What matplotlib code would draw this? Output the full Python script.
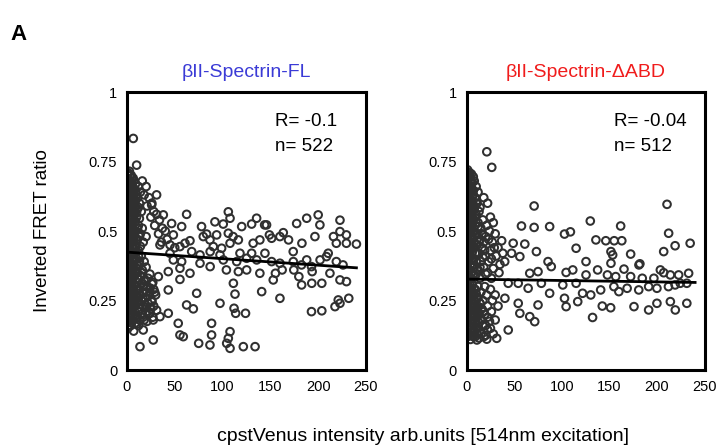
import numpy as np
import matplotlib
matplotlib.use("Agg")
import matplotlib.pyplot as plt

plt.rcParams['font.family'] = ['Liberation Sans', 'DejaVu Sans']

# panel titles and stats
titles = ["βII-Spectrin-FL", "βII-Spectrin-ΔABD"]
title_colors = ["#3b3bd6", "#f01c1c"]
r_values = ["R= -0.1", "R= -0.04"]
n_values = ["n= 522", "n= 512"]

# regression lines: (intercept, slope, x start, x end)
fit_left = (0.424, -0.000235, 3, 240)
fit_right = (0.327, -0.000050, 3, 240)

# ---- left panel (FL): dense cluster near x=0
left_dense = [
    (1, 0.71), (3, 0.70), (5, 0.69), (2, 0.68), (7, 0.68), (4, 0.67), (9, 0.67), (1, 0.66),
    (6, 0.66), (3, 0.65), (8, 0.65), (12, 0.66), (2, 0.64), (5, 0.64), (10, 0.63), (14, 0.64),
    (1, 0.63), (4, 0.62), (7, 0.62), (2, 0.61), (9, 0.61), (5, 0.60), (0.5, 0.59), (3, 0.59),
    (8, 0.59), (6, 0.58), (11, 0.58), (1, 0.57), (4, 0.57), (13, 0.60), (7, 0.56), (2, 0.55),
    (10, 0.55), (15, 0.57), (5, 0.54), (1, 0.53), (8, 0.53), (3, 0.52), (12, 0.52), (6, 0.51),
    (0.5, 0.50), (9, 0.50), (4, 0.49), (14, 0.49), (2, 0.48), (7, 0.47), (11, 0.47), (1, 0.46),
    (5, 0.46), (17, 0.46), (3, 0.45), (9, 0.45), (20, 0.48), (16, 0.51), (6, 0.44), (1, 0.43),
    (12, 0.43), (4, 0.42), (8, 0.42), (2, 0.41), (15, 0.41), (10, 0.40), (5, 0.40), (0.5, 0.39),
    (7, 0.39), (18, 0.39), (3, 0.38), (13, 0.38), (9, 0.37), (1, 0.36), (6, 0.36), (20, 0.37),
    (4, 0.35), (11, 0.35), (16, 0.36), (2, 0.34), (8, 0.34), (14, 0.34), (22, 0.33), (5, 0.33),
    (11, 0.33), (18, 0.32), (1, 0.32), (26, 0.31), (7, 0.31), (15, 0.31), (3, 0.30), (10, 0.30),
    (21, 0.30), (28, 0.29), (6, 0.29), (13, 0.29), (1, 0.28), (17, 0.28), (24, 0.28), (9, 0.27),
    (4, 0.27), (30, 0.27), (12, 0.26), (19, 0.26), (2, 0.26), (26, 0.25), (7, 0.25), (15, 0.25),
    (0.5, 0.24), (10, 0.24), (22, 0.24), (5, 0.23), (17, 0.23), (28, 0.23), (2, 0.22), (13, 0.22),
    (8, 0.21), (20, 0.21), (25, 0.22), (1, 0.20), (4, 0.20), (15, 0.20), (11, 0.19), (6, 0.19),
    (18, 0.18), (2, 0.18), (9, 0.17), (4, 0.16), (1, 0.15), (12, 0.16), (7, 0.14),
    (16, 0.68), (20, 0.66), (18, 0.63), (23, 0.62), (26, 0.60), (21, 0.59), (28, 0.57), (31, 0.56),
    (25, 0.55), (34, 0.54), (29, 0.52), (37, 0.51), (33, 0.49), (40, 0.50), (42, 0.47), (36, 0.46),
    (45, 0.45), (50, 0.44),
]

# the solid black column hugging the y axis
left_core = [
    (2.5, 0.715), (0.5, 0.705), (4.5, 0.70), (6.5, 0.69), (1.5, 0.685), (3.5, 0.675), (5.5, 0.67),
    (0.5, 0.66), (2.5, 0.655), (4.5, 0.645), (6.5, 0.64), (1.5, 0.635), (3.5, 0.625), (5.5, 0.62),
    (0.5, 0.615), (2.5, 0.605), (4.5, 0.60), (6.5, 0.595), (1.5, 0.59), (3.5, 0.58), (5.5, 0.575),
    (0.5, 0.57), (2.5, 0.565), (4.5, 0.555), (6.5, 0.55), (1.5, 0.545), (3.5, 0.54), (5.5, 0.53),
    (0.5, 0.525), (2.5, 0.52), (4.5, 0.515), (6.5, 0.505), (1.5, 0.50), (3.5, 0.495), (5.5, 0.49),
    (0.5, 0.48), (2.5, 0.475), (4.5, 0.47), (6.5, 0.465), (1.5, 0.455), (3.5, 0.45), (5.5, 0.445),
    (0.5, 0.44), (2.5, 0.43), (4.5, 0.425), (6.5, 0.42), (1.5, 0.415), (3.5, 0.405), (5.5, 0.40),
    (0.5, 0.395), (2.5, 0.39), (4.5, 0.38), (6.5, 0.375), (1.5, 0.37), (3.5, 0.365), (5.5, 0.355),
    (0.5, 0.35), (2.5, 0.345), (4.5, 0.34), (6.5, 0.33), (1.5, 0.325), (3.5, 0.32), (5.5, 0.315),
    (0.5, 0.305), (2.5, 0.30), (4.5, 0.295), (6.5, 0.29), (1.5, 0.28), (3.5, 0.275), (5.5, 0.27),
    (0.5, 0.265), (2.5, 0.255), (4.5, 0.25), (6.5, 0.245), (1.5, 0.24), (3.5, 0.23), (5.5, 0.225),
    (0.5, 0.22), (2.5, 0.215), (4.5, 0.205), (6.5, 0.20), (1.5, 0.195), (3.5, 0.19), (0.5, 0.18),
    (2.5, 0.175), (4.5, 0.17),
    (9, 0.355), (16, 0.35), (24, 0.345), (12, 0.325), (20, 0.32), (27, 0.315), (8, 0.305),
    (17, 0.30), (24, 0.295), (11, 0.285), (20, 0.28), (29, 0.28), (14, 0.27), (8, 0.26),
    (22, 0.265), (17, 0.255), (11, 0.245), (26, 0.245), (14, 0.235), (8, 0.23), (20, 0.225),
    (31, 0.215), (12, 0.21), (23, 0.205), (9, 0.195), (17, 0.19), (27, 0.19), (13, 0.18),
    (21, 0.175), (10, 0.165),
    (9, 0.64), (11, 0.62), (8, 0.60), (12, 0.585), (10, 0.565), (13, 0.545), (9, 0.535),
    (11, 0.51), (8, 0.49), (13, 0.48), (10, 0.465), (9, 0.44), (14, 0.445), (10, 0.425),
    (12, 0.41), (8, 0.395), (13, 0.39), (11, 0.375),
]

# ---- left panel: scattered points
left_sparse = [
    (6.6, 0.833), (10.1, 0.737), (31, 0.63), (25.8, 0.594), (62.4, 0.56), (106, 0.569),
    (107.8, 0.546), (135.6, 0.546), (188, 0.546), (200, 0.558), (201.8, 0.522), (222.8, 0.539),
    (177.5, 0.527), (146, 0.522), (78, 0.516), (92, 0.533), (100.7, 0.525), (120, 0.516),
    (130.4, 0.525), (144, 0.522), (149, 0.486), (160, 0.48), (163.5, 0.494), (196.6, 0.48),
    (222.8, 0.498), (216, 0.48), (229.5, 0.486), (240, 0.453), (229.5, 0.456), (219, 0.456),
    (183, 0.456), (169, 0.468), (151.3, 0.474), (139, 0.468), (132, 0.456), (116.5, 0.468),
    (111, 0.48), (106, 0.492), (107.8, 0.456), (93.8, 0.486), (83.3, 0.489), (86.8, 0.468),
    (79.8, 0.48), (65.9, 0.465), (60.7, 0.456), (55.4, 0.444), (34.5, 0.45), (45, 0.42),
    (57.2, 0.516), (46.7, 0.527), (38, 0.558), (48.5, 0.486), (118.2, 0.42), (130.4, 0.42),
    (144.3, 0.42), (173.9, 0.426), (208.7, 0.408), (210.5, 0.42), (97.3, 0.414), (87, 0.426),
    (76.4, 0.414), (67.7, 0.426), (90.3, 0.444), (99, 0.438), (100.8, 0.396), (114.8, 0.39),
    (125.2, 0.402), (135.7, 0.396), (151.3, 0.39), (160, 0.384), (174, 0.39), (182.6, 0.378),
    (193, 0.372), (188, 0.396), (202, 0.396), (219, 0.39), (226, 0.378), (57.2, 0.39),
    (48.5, 0.396), (76.4, 0.384), (87, 0.372), (104, 0.36), (116.5, 0.354), (125.2, 0.36),
    (139, 0.348), (155.3, 0.348), (162.3, 0.36), (174.5, 0.36), (179.8, 0.336), (193.7, 0.354),
    (212.3, 0.348), (43.2, 0.354), (55.4, 0.366), (65.9, 0.348), (32.8, 0.336), (55.4, 0.326),
    (111.3, 0.312), (153, 0.324), (182.7, 0.306), (193.3, 0.312), (203.8, 0.312), (222.8, 0.324),
    (229.6, 0.318), (43.2, 0.288), (72.9, 0.276), (113, 0.273), (140.9, 0.282), (160, 0.258),
    (97.3, 0.24), (62.4, 0.234), (69.4, 0.22), (221, 0.252), (232, 0.258), (217.6, 0.228),
    (222.8, 0.24), (193, 0.21), (203.8, 0.213), (43.2, 0.204), (53.6, 0.168), (112, 0.222),
    (113.7, 0.204), (124, 0.204), (88.5, 0.168), (55.4, 0.126), (58.9, 0.12), (88.5, 0.126),
    (86.8, 0.09), (75, 0.096), (27.5, 0.108), (13.6, 0.084), (107.8, 0.138), (106, 0.114),
    (104.3, 0.096), (107.8, 0.078), (121.7, 0.084), (134, 0.084), (34.5, 0.192), (27.5, 0.18),
    (17, 0.144), (24, 0.204),
]

# ---- right panel (dABD): dense cluster near x=0
right_dense = [
    (1, 0.71), (3, 0.70), (0.5, 0.69), (5, 0.68), (2, 0.67), (8, 0.68), (4, 0.66), (1, 0.65),
    (10, 0.66), (6, 0.65), (3, 0.64), (12, 0.64), (7, 0.63), (2, 0.62), (9, 0.62), (5, 0.61),
    (0.5, 0.60), (11, 0.60), (4, 0.59), (8, 0.58), (2, 0.57), (6, 0.57), (13, 0.57), (1, 0.56),
    (10, 0.56), (4, 0.55), (7, 0.54), (2, 0.53), (12, 0.53), (5, 0.52), (9, 0.52), (1, 0.51),
    (15, 0.51), (3, 0.50), (7, 0.50), (11, 0.49), (0.5, 0.48), (5, 0.48), (14, 0.47), (2, 0.47),
    (8, 0.46), (18, 0.46), (4, 0.45), (11, 0.45), (1, 0.44), (6, 0.44), (16, 0.44), (3, 0.43),
    (9, 0.42), (13, 0.42), (0.5, 0.41), (6, 0.40), (20, 0.41), (2, 0.39), (10, 0.39), (15, 0.39),
    (4, 0.38), (8, 0.37), (1, 0.36), (12, 0.36), (18, 0.37), (5, 0.35), (2, 0.34), (9, 0.34),
    (14, 0.33), (22, 0.35),
    (18, 0.62), (22, 0.60), (25, 0.55), (28, 0.53), (24, 0.50), (30, 0.49), (20, 0.48), (27, 0.46),
    (33, 0.44), (31, 0.41), (26, 0.40), (35, 0.38),
    (1, 0.31), (6, 0.31), (12, 0.30), (19, 0.30), (3, 0.29), (9, 0.29), (25, 0.29), (15, 0.28),
    (1, 0.28), (6, 0.27), (21, 0.27), (30, 0.27), (11, 0.26), (3, 0.26), (17, 0.25), (27, 0.25),
    (8, 0.25), (1, 0.24), (14, 0.24), (22, 0.23), (5, 0.23), (33, 0.23), (10, 0.22), (2, 0.22),
    (18, 0.21), (26, 0.21), (7, 0.20), (13, 0.20), (1, 0.19), (22, 0.19), (4, 0.18), (16, 0.18),
    (30, 0.18), (9, 0.17), (2, 0.16), (20, 0.16), (12, 0.15), (6, 0.14), (25, 0.15), (3, 0.13),
    (15, 0.13), (9, 0.12), (1, 0.12), (18, 0.12),
]

# solid column and lower lobe of the right panel
right_core = [
    (1, 0.72), (3, 0.71), (5, 0.705), (7, 0.695), (2, 0.69), (4, 0.68), (6, 0.675), (1, 0.665),
    (3, 0.66), (5, 0.65), (7, 0.645), (2, 0.64), (4, 0.63), (6, 0.625), (1, 0.615), (3, 0.61),
    (5, 0.60), (7, 0.595), (2, 0.59), (4, 0.58), (6, 0.575), (1, 0.565), (3, 0.56), (5, 0.55),
    (7, 0.545), (2, 0.54), (4, 0.53), (6, 0.525), (1, 0.515), (3, 0.51), (5, 0.50), (7, 0.495),
    (2, 0.49), (4, 0.48), (6, 0.475), (1, 0.465), (3, 0.46), (5, 0.45), (7, 0.445), (2, 0.44),
    (4, 0.43), (6, 0.425), (1, 0.415), (3, 0.41), (5, 0.40), (7, 0.395), (2, 0.39), (4, 0.38),
    (6, 0.375), (1, 0.365), (3, 0.36), (5, 0.35), (7, 0.345), (2, 0.34), (4, 0.33), (1, 0.32),
    (3, 0.31), (6, 0.305), (1, 0.30), (4, 0.295), (8, 0.29), (2, 0.285), (5, 0.28), (10, 0.275),
    (1, 0.27), (7, 0.265), (3, 0.26), (12, 0.26), (5, 0.25), (9, 0.245), (1, 0.24), (14, 0.24),
    (4, 0.235), (7, 0.23), (11, 0.225), (2, 0.22), (16, 0.22), (6, 0.215), (9, 0.21), (1, 0.205),
    (13, 0.205), (4, 0.20), (19, 0.20), (7, 0.195), (11, 0.19), (2, 0.185), (15, 0.185), (5, 0.18),
    (9, 0.175), (24, 0.175), (1, 0.17), (13, 0.17), (7, 0.165), (3, 0.16), (17, 0.16), (10, 0.155),
    (5, 0.15), (22, 0.145), (1, 0.145), (14, 0.14), (8, 0.14), (4, 0.135), (11, 0.13), (28, 0.13),
    (2, 0.125), (20, 0.125), (7, 0.12), (13, 0.115), (4, 0.11),
    (10, 0.60), (14, 0.585), (9, 0.555), (17, 0.54), (12, 0.515), (21, 0.52), (10, 0.49),
    (16, 0.49), (23, 0.47), (13, 0.46), (19, 0.43), (25, 0.43), (11, 0.42), (29, 0.44),
    (17, 0.405), (23, 0.39), (38, 0.42), (40, 0.39), (14, 0.37), (28, 0.365), (34, 0.35),
    (20, 0.345), (10, 0.345), (26, 0.33),
]

# ---- right panel: scattered points
right_sparse = [
    (21.2, 0.785), (26.4, 0.729), (70.9, 0.59), (210.5, 0.596), (129.9, 0.536), (57.6, 0.518),
    (70.9, 0.513), (87.2, 0.516), (102.8, 0.489), (109, 0.497), (161.8, 0.518), (135.8, 0.468),
    (146.2, 0.465), (155, 0.465), (163, 0.465), (212.2, 0.492), (234.8, 0.456), (219, 0.447),
    (207, 0.426), (115, 0.438), (73.3, 0.426), (61.1, 0.453), (48.9, 0.456), (36.8, 0.465),
    (47.2, 0.42), (55.9, 0.408), (85.5, 0.39), (88.9, 0.372), (125.4, 0.39), (151.6, 0.426),
    (153.4, 0.414), (151.6, 0.384), (172.3, 0.417), (181, 0.378), (182, 0.382), (137.6, 0.36),
    (165.3, 0.363), (203.5, 0.36), (207, 0.35), (66.3, 0.348), (75, 0.354), (104.5, 0.351),
    (111.5, 0.36), (125.4, 0.342), (147.9, 0.342), (156.6, 0.336), (172.3, 0.336), (184.5, 0.33),
    (196.7, 0.33), (214, 0.342), (222.7, 0.342), (233.2, 0.348), (43.7, 0.312), (54.2, 0.312),
    (64.6, 0.294), (78.5, 0.312), (101, 0.306), (115, 0.312), (121.8, 0.276), (130.4, 0.27),
    (140.8, 0.288), (154.7, 0.3), (159.9, 0.282), (168.6, 0.294), (180.8, 0.288), (191.2, 0.3),
    (199.9, 0.294), (212, 0.3), (219, 0.306), (224.4, 0.312), (231.3, 0.312), (40.2, 0.258),
    (54.2, 0.24), (87.2, 0.276), (102.8, 0.258), (116.7, 0.246), (104.5, 0.228), (142.5, 0.23),
    (151.3, 0.224), (175.8, 0.228), (191.2, 0.216), (199.9, 0.24), (214, 0.246), (219.2, 0.216),
    (231.3, 0.24), (75, 0.234), (55.9, 0.204), (66.3, 0.192), (71.5, 0.174), (132.3, 0.189),
    (43.7, 0.144), (31.6, 0.114), (21.2, 0.111), (10.8, 0.108),
]

fig = plt.figure(figsize=(7.19, 4.48), dpi=100)
ax_left = fig.add_axes([0.1766, 0.1741, 0.3324, 0.6205])
ax_right = fig.add_axes([0.649, 0.1741, 0.331, 0.6205])

panels = [
    (ax_left, left_core + left_dense + left_sparse, fit_left),
    (ax_right, right_core + right_dense + right_sparse, fit_right),
]

for i, (ax, pts, fit) in enumerate(panels):
    xs = [p[0] for p in pts]
    ys = [p[1] for p in pts]
    ax.scatter(xs, ys, s=30, facecolors='none', edgecolors='#303030', linewidths=1.45, zorder=2)
    b, m, x0, x1 = fit
    lx = np.array([x0, x1])
    ax.plot(lx, b + m * lx, color='black', lw=2, zorder=3)
    ax.set_xlim(0, 250)
    ax.set_ylim(0, 1)
    ax.set_xticks([0, 50, 100, 150, 200, 250])
    ax.set_yticks([0, 0.25, 0.5, 0.75, 1])
    ax.set_yticklabels(["0", "0.25", "0.5", "0.75", "1"])
    ax.tick_params(length=0, labelsize=10.5, pad=7)
    for sp in ax.spines.values():
        sp.set_linewidth(2.2)
    ax.set_title(titles[i], color=title_colors[i], fontsize=14, pad=11)
    ax.text(0.62, 0.925, r_values[i], transform=ax.transAxes, fontsize=13.5, va='top')
    ax.text(0.62, 0.833, n_values[i], transform=ax.transAxes, fontsize=13.5, va='top')

ax_left.set_ylabel("Inverted FRET ratio", fontsize=13.5, labelpad=27)
fig.text(0.588, 0.025, "cpstVenus intensity arb.units [514nm excitation]", ha='center',
         va='center', fontsize=14)
fig.text(0.015, 0.91, "A", fontsize=16, fontweight='bold')

fig.savefig("out.png", dpi=100)
